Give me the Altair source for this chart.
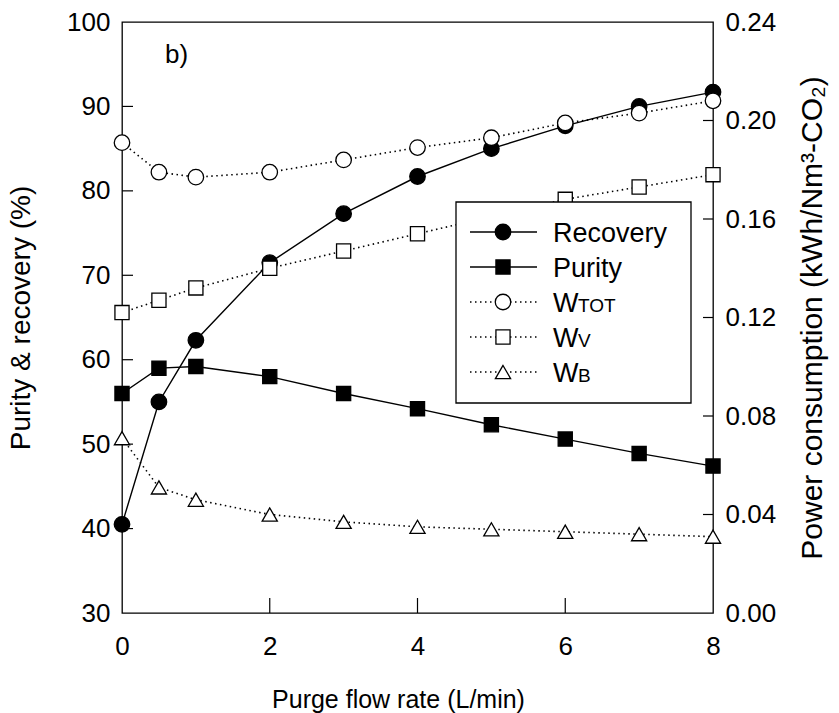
import altair as alt
import pandas as pd

# ---------------- data ----------------
flow = [0, 0.5, 1, 2, 3, 4, 5, 6, 7, 8]
recovery = [40.5, 55.0, 62.3, 71.5, 77.3, 81.7, 85.0, 87.7, 90.0, 91.7]
purity = [56.0, 59.0, 59.2, 58.0, 56.0, 54.2, 52.3, 50.6, 48.9, 47.4]
w_tot = [0.191, 0.179, 0.177, 0.179, 0.184, 0.189, 0.193, 0.199, 0.203, 0.208]
w_v = [0.122, 0.127, 0.132, 0.140, 0.147, 0.154, 0.161, 0.168, 0.173, 0.178]
w_b = [0.071, 0.051, 0.046, 0.040, 0.037, 0.035, 0.034, 0.033, 0.032, 0.031]

x_labels = [0, 2, 4, 6, 8]
left_labels = [30, 40, 50, 60, 70, 80, 90, 100]
right_labels = [0.0, 0.04, 0.08, 0.12, 0.16, 0.20, 0.24]
x_inner_ticks = [2, 4, 6]
left_inner_ticks = [40, 50, 60, 70, 80, 90]
right_inner_ticks = [0.04, 0.08, 0.12, 0.16, 0.20]

legend_names = ["Recovery", "Purity", "W", "W", "W"]
legend_subs = ["", "", "TOT", "V", "B"]

# ---------------- styles ----------------
FONT = "Liberation Sans"
W, H = 591, 591
LABEL_FS = 26
legend_shapes = ["circle", "square", "circle", "square", "triangle-up"]
legend_filled = [True, True, False, False, False]
legend_dotted = [False, False, True, True, True]
DOT = [1.5, 3.5]
SIZES = {"circle": 240, "square": 200, "triangle-up": 230}

df = pd.DataFrame({"flow": flow, "recovery": recovery, "purity": purity,
                   "w_tot": w_tot, "w_v": w_v, "w_b": w_b})

xs = alt.Scale(domain=[0, 8], nice=False, zero=False)
ysl = alt.Scale(domain=[30, 100], nice=False, zero=False)
ysr = alt.Scale(domain=[0, 0.24], nice=False, zero=False)

common = dict(tickSize=0, domain=False, grid=False, labelFont=FONT, titleFont=FONT,
              labelFontSize=LABEL_FS, labelColor="black", titleColor="black",
              titleFontWeight="normal", labelOverlap=False)

x_axis = alt.Axis(values=x_labels, title="Purge flow rate (L/min)", format="d",
                  labelPadding=20, titlePadding=28, labelFlush=False,
                  titleFontSize=25, titleX=276, **common)
y_axis_l = alt.Axis(values=left_labels, title="Purity & recovery (%)", format="d",
                    orient="left", labelPadding=12, titlePadding=31,
                    titleFontSize=28, **common)
y_axis_r = alt.Axis(values=right_labels, title="Power consumption (kWh/Nm³-CO₂)",
                    format=".2f", orient="right", labelPadding=12, titlePadding=52,
                    titleFontSize=30, titleAngle=270, **common)


def series(field, shape, filled, dotted, yscale, yaxis):
    base = alt.Chart(df).encode(
        x=alt.X("flow:Q", scale=xs, axis=x_axis),
        y=alt.Y(f"{field}:Q", scale=yscale, axis=yaxis),
    )
    lk = dict(color="black", strokeWidth=1.4)
    if dotted:
        lk["strokeDash"] = DOT
        lk["strokeWidth"] = 1.6
    line = base.mark_line(**lk)
    pts = base.mark_point(shape=shape, size=SIZES[shape], filled=True,
                          fill="black" if filled else "white", stroke="black",
                          strokeWidth=1.3, opacity=1)
    return line, pts


rec_l, rec_p = series("recovery", "circle", True, False, ysl, y_axis_l)
pur_l, pur_p = series("purity", "square", True, False, ysl, y_axis_l)
tot_l, tot_p = series("w_tot", "circle", False, True, ysr, y_axis_r)
wv_l, wv_p = series("w_v", "square", False, True, ysr, y_axis_r)
wb_l, wb_p = series("w_b", "triangle-up", False, True, ysr, y_axis_r)

left_ticks = alt.Chart(pd.DataFrame({"t": left_inner_ticks})).mark_rule(
    color="black", strokeWidth=1.2).encode(
    y=alt.Y("t:Q", scale=ysl, axis=y_axis_l), x=alt.value(0), x2=alt.value(11))
bottom_ticks = alt.Chart(pd.DataFrame({"t": x_inner_ticks})).mark_rule(
    color="black", strokeWidth=1.2).encode(
    x=alt.X("t:Q", scale=xs, axis=x_axis), y=alt.value(H - 15), y2=alt.value(H))
right_ticks = alt.Chart(pd.DataFrame({"t": right_inner_ticks})).mark_rule(
    color="black", strokeWidth=1.2).encode(
    y=alt.Y("t:Q", scale=ysr, axis=y_axis_r), x=alt.value(W - 10), x2=alt.value(W))

left_group = alt.layer(left_ticks, bottom_ticks, rec_l, pur_l, rec_p, pur_p)
right_group = alt.layer(right_ticks, tot_l, wv_l, wb_l, tot_p, wv_p, wb_p)

one = pd.DataFrame({"k": [0]})

panel_label = alt.Chart(one).mark_text(
    text="b)", font=FONT, fontSize=26, align="left", baseline="alphabetic",
    color="black").encode(x=alt.value(43), y=alt.value(41))

# ---------------- hand-made legend box ----------------
LX0, LX1, LY0, LY1 = 334, 569, 180, 381
LEG_FS = 27
legend_layers = [alt.Chart(one).mark_rect(fill="white", stroke="black", strokeWidth=1.3).encode(
    x=alt.value(LX0), x2=alt.value(LX1), y=alt.value(LY0), y2=alt.value(LY1))]
for i, name in enumerate(legend_names):
    ry = 210 + 35 * i
    rk = dict(color="black", strokeWidth=1.4)
    if legend_dotted[i]:
        rk["strokeDash"] = DOT
        rk["strokeWidth"] = 1.6
    legend_layers.append(alt.Chart(one).mark_rule(**rk).encode(
        x=alt.value(348), x2=alt.value(415), y=alt.value(ry)))
    shp = legend_shapes[i]
    legend_layers.append(alt.Chart(one).mark_point(
        shape=shp, size=SIZES[shp], filled=True,
        fill="black" if legend_filled[i] else "white", stroke="black",
        strokeWidth=1.3, opacity=1).encode(x=alt.value(381), y=alt.value(ry)))
    legend_layers.append(alt.Chart(one).mark_text(
        text=name, font=FONT, fontSize=LEG_FS, align="left", baseline="alphabetic",
        color="black").encode(x=alt.value(431), y=alt.value(ry + 10)))
    if legend_subs[i]:
        legend_layers.append(alt.Chart(one).mark_text(
            text=legend_subs[i], font=FONT, fontSize=19, align="left",
            baseline="alphabetic", color="black", dx=25).encode(
            x=alt.value(431), y=alt.value(ry + 10)))

chart = alt.layer(left_group, right_group, panel_label, *legend_layers).resolve_scale(
    y="independent"
).properties(
    width=W, height=H,
    autosize=alt.AutoSizeParams(type="none"),
    padding={"left": 122, "top": 22, "right": 126, "bottom": 100},
    background="white",
).configure_view(stroke="black", strokeWidth=1.3)

chart.save("out.html", embed_options={"renderer": "svg", "actions": False})
